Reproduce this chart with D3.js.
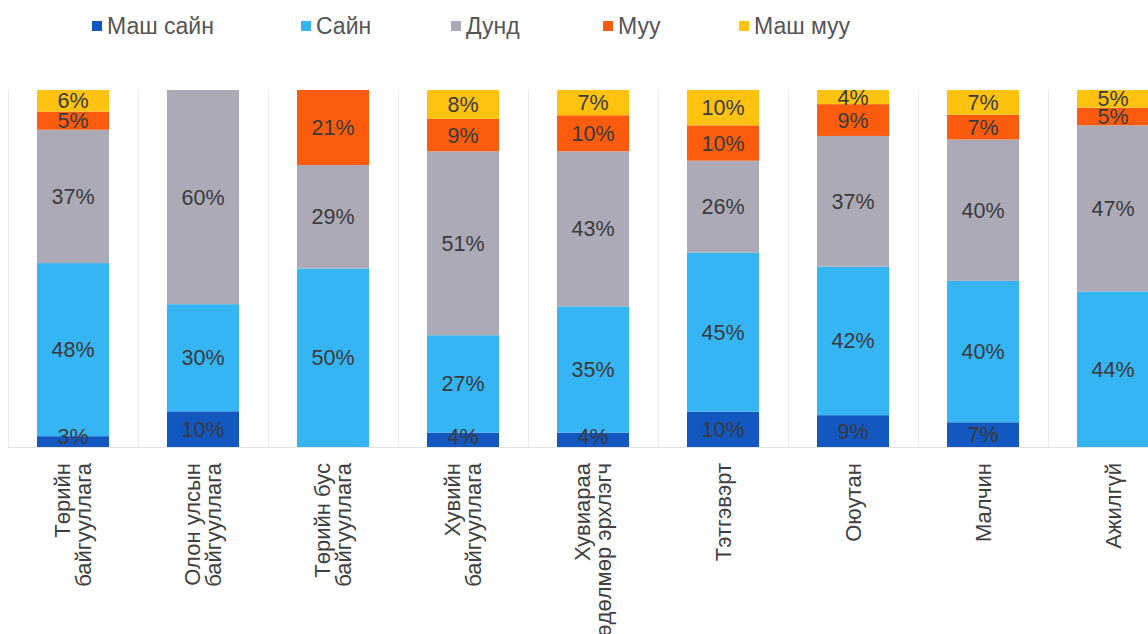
<!DOCTYPE html>
<html>
<head>
<meta charset="utf-8">
<script src="https://cdn.jsdelivr.net/npm/d3@7"></script>
<style>
  html, body { margin: 0; padding: 0; background: #fff; }
  svg { display: block; font-family: "Liberation Sans", Arial, sans-serif; }
</style>
</head>
<body>
<svg id="chart" width="1148" height="634"></svg>
<script>
// Respondent groups (two-line labels)
const categories = [
  ["Төрийн", "байгууллага"],
  ["Олон улсын", "байгууллага"],
  ["Төрийн бус", "байгууллага"],
  ["Хувийн", "байгууллага"],
  ["Хувиараа", "хөдөлмөр эрхлэгч"],
  ["Тэтгэвэрт"],
  ["Оюутан"],
  ["Малчин"],
  ["Ажилгүй"]
];

// Rating levels, bottom to top
const seriesNames = ["Маш сайн", "Сайн", "Дунд", "Муу", "Маш муу"];
const seriesColors = ["#1258c0", "#35b5f3", "#abaab6", "#fd5c0e", "#ffc20e"];

// Percent shares per group
const veryGood = [3, 10, 0, 4, 4, 10, 9, 7, 0];
const good     = [48, 30, 50, 27, 35, 45, 42, 40, 44];
const medium   = [37, 60, 29, 51, 43, 26, 37, 40, 47];
const bad      = [5, 0, 21, 9, 10, 10, 9, 7, 5];
const veryBad  = [6, 0, 0, 8, 7, 10, 4, 7, 5];

const seriesValues = [veryGood, good, medium, bad, veryBad];

const rows = categories.map((c, i) => {
  const r = { key: c.join(" ") };
  seriesNames.forEach((s, j) => { r[s] = seriesValues[j][i]; });
  return r;
});

const svg = d3.select("#chart");
const plotTop = 90, plotBottom = 447;

const x = d3.scaleBand()
  .domain(rows.map(r => r.key))
  .range([8, 1178])
  .paddingInner(0.446)
  .paddingOuter(0.223);

const y = d3.scaleLinear().domain([0, 1]).range([plotBottom, plotTop]);

const stack = d3.stack().keys(seriesNames).offset(d3.stackOffsetExpand);
const layers = stack(rows);

// Category separators
const step = x.step();
const bounds = d3.range(categories.length + 1).map(i => 8 + i * step);
svg.append("g").selectAll("line").data(bounds).join("line")
  .attr("x1", d => d + 0.5).attr("x2", d => d + 0.5)
  .attr("y1", plotTop).attr("y2", plotBottom)
  .attr("stroke", "#ececec").attr("stroke-width", 1);

// Baseline
svg.append("line")
  .attr("x1", 8).attr("x2", 1148)
  .attr("y1", plotBottom + 0.5).attr("y2", plotBottom + 0.5)
  .attr("stroke", "#e2e2e2");

// Stacked bars
const g = svg.append("g");
layers.forEach((layer, li) => {
  g.append("g").attr("fill", seriesColors[li])
    .selectAll("rect").data(layer).join("rect")
    .attr("x", d => x(d.data.key))
    .attr("width", x.bandwidth())
    .attr("y", d => y(d[1]))
    .attr("height", d => Math.max(0, y(d[0]) - y(d[1])));
});

// Value labels, kept inside the plot area
layers.forEach((layer, li) => {
  g.append("g").selectAll("text").data(layer.filter(d => d.data[layer.key] > 0)).join("text")
    .attr("x", d => x(d.data.key) + x.bandwidth() / 2)
    .attr("y", d => Math.min(plotBottom - 11, (y(d[0]) + y(d[1])) / 2))
    .attr("dy", "0.35em")
    .attr("text-anchor", "middle")
    .attr("font-size", 21.5)
    .attr("fill", "#3a3a3a")
    .text(d => d.data[layer.key] + "%");
});

// Category labels, rotated
const lineH = 21;
const lab = svg.append("g").selectAll("text").data(rows.map((r, i) => ({ key: r.key, lines: categories[i] }))).join("text")
  .attr("transform", d => `translate(${x(d.key) + x.bandwidth() / 2},463) rotate(-90)`)
  .attr("text-anchor", "end")
  .attr("font-size", 22)
  .attr("fill", "#404040");
lab.each(function(d) {
  const n = d.lines.length;
  d3.select(this).selectAll("tspan").data(d.lines).join("tspan")
    .attr("x", 0)
    .attr("y", (t, i) => (i - (n - 1) / 2) * lineH)
    .attr("dy", "0.35em")
    .text(t => t);
});

// Legend
const legendX = [92, 301, 451, 603, 739];
const leg = svg.append("g").selectAll("g").data(seriesNames).join("g")
  .attr("transform", (d, i) => `translate(${legendX[i]},0)`);
leg.append("rect").attr("x", 0).attr("y", 21).attr("width", 10).attr("height", 10)
  .attr("fill", (d, i) => seriesColors[i]);
leg.append("text").attr("x", 15).attr("y", 34)
  .attr("font-size", 23).attr("fill", "#555")
  .text(d => d);
</script>
</body>
</html>
